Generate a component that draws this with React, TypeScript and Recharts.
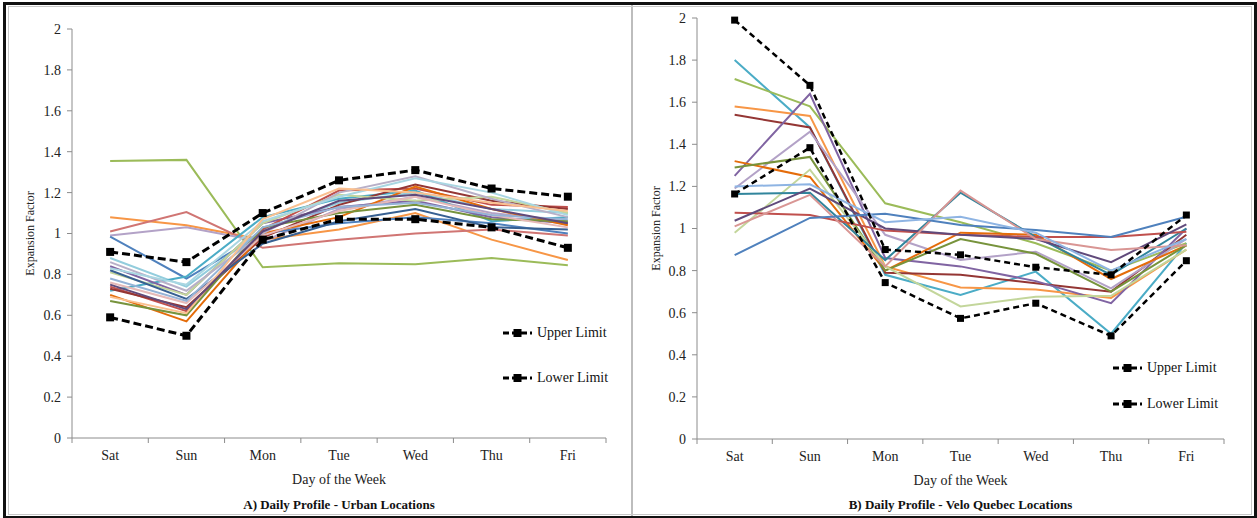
import React from "react";
import { LineChart, Line, XAxis, YAxis } from "recharts";

const days = ["Sat", "Sun", "Mon", "Tue", "Wed", "Thu", "Fri"];
const yTicks = [0, 0.2, 0.4, 0.6, 0.8, 1, 1.2, 1.4, 1.6, 1.8, 2];
const limitNames = ["Upper Limit", "Lower Limit"];

// A) urban locations
const urbanUpper = [0.91, 0.86, 1.1, 1.26, 1.31, 1.22, 1.18];
const urbanLower = [0.59, 0.5, 0.97, 1.07, 1.07, 1.03, 0.93];
const urbanSeries = [
  [1.355, 1.36, 0.835, 0.855, 0.85, 0.88, 0.845],
  [1.08, 1.04, 0.97, 1.02, 1.1, 0.97, 0.87],
  [1.01, 1.105, 0.93, 0.97, 1.0, 1.02, 0.99],
  [0.99, 1.03, 0.96, 1.12, 1.18, 1.1, 1.06],
  [0.985, 0.78, 1.0, 1.05, 1.08, 1.05, 1.0],
  [0.88, 0.74, 1.02, 1.15, 1.2, 1.12, 1.1],
  [0.72, 0.79, 1.08, 1.17, 1.21, 1.06, 1.08],
  [0.84, 0.7, 1.05, 1.13, 1.16, 1.08, 1.05],
  [0.74, 0.62, 1.02, 1.21, 1.22, 1.14, 1.13],
  [0.73, 0.64, 0.98, 1.14, 1.24, 1.16, 1.12],
  [0.7, 0.57, 1.0, 1.08, 1.23, 1.12, 1.04],
  [0.67, 0.6, 1.03, 1.1, 1.14, 1.07, 1.06],
  [0.81, 0.7, 1.05, 1.19, 1.16, 1.18, 1.1],
  [0.82, 0.68, 0.95, 1.06, 1.12, 1.03, 1.02],
  [0.86, 0.72, 1.0, 1.2, 1.28, 1.17, 1.08],
  [0.76, 0.66, 0.99, 1.11, 1.18, 1.09, 1.03],
  [0.83, 0.75, 1.06, 1.18, 1.27, 1.2, 1.09],
  [0.78, 0.67, 1.03, 1.13, 1.15, 1.09, 1.07],
  [0.69, 0.61, 1.07, 1.22, 1.2, 1.15, 1.11],
  [0.75, 0.63, 1.01, 1.16, 1.19, 1.12, 1.05],
];
const urbanColors = [
  "#9BBB59", "#F79646", "#D07573", "#B3A2C7", "#4F81BD", "#93CDDD", "#4BACC6",
  "#8064A2", "#C0504D", "#943634", "#E46C0A", "#77933C", "#C3D69B", "#376092",
  "#B8B0C8", "#E6B9B8", "#A9D6E2", "#95B3D7", "#FAC090", "#604A7B",
];

// B) Velo Quebec locations
const veloUpper = [1.99, 1.68, 0.9, 0.875, 0.816, 0.78, 1.064];
const veloLower = [1.164, 1.384, 0.743, 0.573, 0.645, 0.49, 0.847];
const veloSeries = [
  [1.8, 1.48, 0.78, 0.684, 0.795, 0.5, 0.93],
  [1.71, 1.58, 1.12, 1.03, 0.93, 0.8, 0.93],
  [1.58, 1.535, 0.82, 0.72, 0.71, 0.67, 0.9],
  [1.54, 1.48, 0.79, 0.78, 0.74, 0.7, 0.97],
  [1.25, 1.64, 0.86, 0.82, 0.75, 0.645, 1.0],
  [1.19, 1.46, 0.97, 0.85, 0.89, 0.716, 0.95],
  [1.32, 1.245, 0.8, 0.98, 0.97, 0.76, 0.92],
  [1.29, 1.34, 0.8, 0.95, 0.88, 0.7, 0.92],
  [0.98, 1.28, 0.82, 0.63, 0.676, 0.68, 0.9],
  [1.164, 1.17, 0.85, 1.17, 0.96, 0.78, 1.0],
  [1.075, 1.064, 0.99, 0.97, 0.96, 0.96, 0.985],
  [1.037, 1.19, 1.0, 0.97, 0.95, 0.84, 1.02],
  [1.01, 1.16, 0.82, 1.18, 0.95, 0.898, 0.92],
  [0.874, 1.05, 1.07, 1.017, 0.993, 0.96, 1.056],
  [1.2, 1.21, 1.03, 1.056, 0.98, 0.8, 0.95],
];
const veloColors = [
  "#4BACC6", "#9BBB59", "#F79646", "#943634", "#8064A2", "#B3A2C7", "#E46C0A",
  "#77933C", "#C3D69B", "#31859C", "#C0504D", "#604A7B", "#D99694", "#4F81BD", "#8EB4E3",
];

const FONT = "'Liberation Serif', 'DejaVu Serif', 'Noto Serif', serif";
const AXIS = "#8c8c8c";

function buildRows(series: number[][], upper: number[], lower: number[]) {
  return days.map((d, i) => {
    const row: Record<string, number | string> = { day: d, upper: upper[i], lower: lower[i] };
    series.forEach((s, k) => (row["s" + k] = s[i]));
    return row;
  });
}

const squareDot = (size: number) => (p: any) => (
  <rect key={p.index} x={p.cx - size / 2} y={p.cy - size / 2} width={size} height={size} fill="#000" />
);

function DayTick(props: any) {
  const { x, payload, index, axisY, bw } = props;
  return (
    <g>
      <line x1={x - bw / 2} x2={x - bw / 2} y1={axisY} y2={axisY + 5} stroke={AXIS} />
      {index === days.length - 1 && (
        <line x1={x + bw / 2} x2={x + bw / 2} y1={axisY} y2={axisY + 5} stroke={AXIS} />
      )}
      <text x={x} y={axisY + 22} textAnchor="middle" fontSize={14} fontFamily={FONT} fill="#222">
        {payload.value}
      </text>
    </g>
  );
}

function LegendBox({ left, top, gap, markW }: { left: number; top: number; gap: number; markW: number }) {
  return (
    <div style={{ position: "absolute", left, top, fontFamily: FONT, fontSize: 14, color: "#111" }}>
      {limitNames.map((n, i) => (
        <div key={n} style={{ display: "flex", alignItems: "center", height: 16, marginTop: i ? gap : 0 }}>
          <svg width={markW} height={10} style={{ marginRight: 5 }}>
            <line x1={0} x2={markW} y1={5} y2={5} stroke="#000" strokeWidth={3} strokeDasharray="6 3" />
            <rect x={markW / 2 - 4} y={1} width={8} height={8} fill="#000" />
          </svg>
          <span>{n}</span>
        </div>
      ))}
    </div>
  );
}

interface PanelProps {
  width: number;
  series: number[][];
  colors: string[];
  upper: number[];
  lower: number[];
  margin: { top: number; right: number; bottom: number; left: number };
  yWidth: number;
  labelOffset: number;
  limitWidth: number;
  dash: string;
  dotSize: number;
}

function Panel(p: PanelProps) {
  const height = 518;
  const xH = 50;
  const data = buildRows(p.series, p.upper, p.lower);
  const plotW = p.width - p.margin.left - p.yWidth - p.margin.right;
  const bw = plotW / days.length;
  const axisY = height - p.margin.bottom - xH;
  return (
    <LineChart width={p.width} height={height} data={data} margin={p.margin}>
      <XAxis
        dataKey="day"
        height={xH}
        stroke={AXIS}
        tickLine={false}
        interval={0}
        padding={{ left: bw / 2, right: bw / 2 }}
        tick={<DayTick axisY={axisY} bw={bw} />}
        label={{ value: "Day of the Week", position: "insideBottom", offset: 4, fontSize: 14, fontFamily: FONT, fill: "#222" }}
      />
      <YAxis
        domain={[0, 2]}
        ticks={yTicks}
        width={p.yWidth}
        stroke={AXIS}
        tickSize={5}
        tickMargin={6}
        tick={{ fontSize: 14, fontFamily: FONT, fill: "#222" }}
        label={{ value: "Expansion  Factor", angle: -90, position: "insideLeft", offset: p.labelOffset, fontSize: 12, fontFamily: FONT, fill: "#222", style: { textAnchor: "middle" } }}
      />
      {p.series.map((_, k) => (
        <Line key={k} dataKey={"s" + k} stroke={p.colors[k]} strokeWidth={2} dot={false} isAnimationActive={false} type="linear" />
      ))}
      <Line dataKey="upper" name={limitNames[0]} stroke="#000" strokeWidth={p.limitWidth} strokeDasharray={p.dash} dot={squareDot(p.dotSize)} isAnimationActive={false} type="linear" />
      <Line dataKey="lower" name={limitNames[1]} stroke="#000" strokeWidth={p.limitWidth} strokeDasharray={p.dash} dot={squareDot(p.dotSize)} isAnimationActive={false} type="linear" />
    </LineChart>
  );
}

const titleStyle: React.CSSProperties = {
  position: "absolute",
  top: 497,
  fontFamily: FONT,
  fontWeight: "bold",
  fontSize: 13,
  textAlign: "center",
  color: "#111",
};

export default function App() {
  return (
    <div style={{ position: "fixed", left: 0, top: 0, width: 1257, height: 518, background: "#fff", overflow: "hidden" }}>
      <div style={{ position: "absolute", left: 0, top: 0 }}>
        <Panel width={632} series={urbanSeries} colors={urbanColors} upper={urbanUpper} lower={urbanLower}
          margin={{ top: 29, right: 26, bottom: 30, left: 22 }} yWidth={50} labelOffset={8}
          limitWidth={3} dash="8 4" dotSize={8} />
      </div>
      <div style={{ position: "absolute", left: 632, top: 0 }}>
        <Panel width={625} series={veloSeries} colors={veloColors} upper={veloUpper} lower={veloLower}
          margin={{ top: 18, right: 33, bottom: 29, left: 20 }} yWidth={45} labelOffset={4}
          limitWidth={2.5} dash="6 4" dotSize={7} />
      </div>
      <div style={{ ...titleStyle, left: 72, width: 534 }}>A) Daily Profile - Urban Locations</div>
      <div style={{ ...titleStyle, left: 697, width: 527 }}>B) Daily Profile - Velo Quebec Locations</div>
      <LegendBox left={503} top={325} gap={29} markW={29} />
      <LegendBox left={1113} top={360} gap={20} markW={29} />
      <div style={{ position: "absolute", left: 631, top: 3, width: 2, height: 514, background: "#bdbdbd" }} />
      <div style={{ position: "absolute", left: 8, top: 6, width: 1242, height: 507, border: "1px solid #c8c8c8", pointerEvents: "none" }} />
      <div style={{ position: "absolute", left: 3, top: 2, width: 1248, height: 511, border: "3px solid #111", pointerEvents: "none" }} />
    </div>
  );
}
